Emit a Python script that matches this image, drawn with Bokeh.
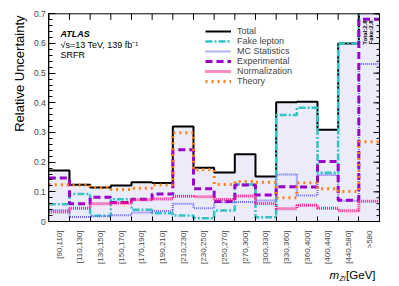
import numpy as np
from bokeh.plotting import figure
from bokeh.models import (Range1d, FixedTicker, Legend, LegendItem, Label)
from bokeh.embed import file_html
from bokeh.resources import INLINE

# ---- data ----
bin_labels = ["[90,110]", "[110,130]", "[130,150]", "[150,170]", "[170,190]", "[190,210]",
              "[210,230]", "[230,250]", "[250,270]", "[270,300]", "[300,330]", "[330,360]",
              "[360,400]", "[400,440]", "[440,580]", ">580"]
total = [0.172, 0.124, 0.115, 0.121, 0.132, 0.130, 0.320, 0.181, 0.165, 0.227, 0.152, 0.402, 0.404, 0.309, 0.600, 2.8]
fake = [0.058, 0.093, 0.019, 0.075, 0.040, 0.028, 0.020, 0.011, 0.037, 0.125, 0.014, 0.359, 0.383, 0.164, 0.600, 2.8]
mcstat = [0.038, 0.015, 0.018, 0.021, 0.030, 0.035, 0.060, 0.045, 0.065, 0.066, 0.071, 0.158, 0.088, 0.157, 0.070, 0.531]
experimental = [0.147, 0.060, 0.082, 0.064, 0.075, 0.093, 0.242, 0.110, 0.067, 0.123, 0.089, 0.117, 0.116, 0.202, 0.072, 0.682]
normalization = [0.032, 0.045, 0.060, 0.062, 0.073, 0.076, 0.085, 0.083, 0.074, 0.086, 0.061, 0.043, 0.055, 0.045, 0.036, 0.068]
theory = [0.124, 0.123, 0.115, 0.108, 0.112, 0.123, 0.299, 0.174, 0.125, 0.135, 0.132, 0.080, 0.131, 0.110, 0.101, 0.269]
y_ticks = [0, 0.1, 0.2, 0.3, 0.4, 0.5, 0.6, 0.7]
y_tick_labels = ["0", "0.1", "0.2", "0.3", "0.4", "0.5", "0.6", "0.7"]

FONT = "Liberation Sans"
n = len(bin_labels)
centers = list(range(n))
edges = [c - 0.5 for c in centers] + [n - 0.5]
X0, X1, Y0, Y1 = -0.5, n - 0.5, 0.0, 0.7

# canvas layout (pixels): the plot box inside a full-canvas frame
W, H = 399, 286
BL, BR, BT, BB = 48.3, 379.0, 13.3, 221.0
sx = (BR - BL) / (X1 - X0)          # px per x unit
sy = (BB - BT) / (Y1 - Y0)          # px per y unit
xr = Range1d(X0 - BL / sx, X1 + (W - BR) / sx)
yr = Range1d(Y0 - (H - BB) / sy, Y1 + BT / sy)

p = figure(frame_width=W, frame_height=H, output_backend="svg", toolbar_location=None,
           x_range=xr, y_range=yr,
           min_border_left=0, min_border_right=0, min_border_top=0, min_border_bottom=0)
p.grid.visible = False
p.outline_line_color = None

xt = FixedTicker(ticks=centers, minor_ticks=edges)
yminor = [round(0.02 * i, 2) for i in range(36)]
yt = FixedTicker(ticks=y_ticks, minor_ticks=yminor)

xa = p.xaxis[0]
xa.fixed_location = Y0
xa.bounds = (X0, X1)
xa.ticker = xt
xa.major_label_overrides = {c: l for c, l in zip(centers, bin_labels)}
xa.major_label_orientation = np.pi / 2
xa.major_label_text_font = FONT
xa.major_label_text_font_size = "8px"
xa.major_label_standoff = 3
xa.major_tick_line_color = None
xa.minor_tick_in = 5
xa.minor_tick_out = 0
xa.minor_tick_line_color = "black"
xa.axis_line_color = "black"

ya = p.yaxis[0]
ya.fixed_location = X0
ya.bounds = (Y0, Y1)
ya.ticker = yt
ya.major_label_overrides = {v: l for v, l in zip(y_ticks, y_tick_labels)}
ya.major_label_text_font = FONT
ya.major_label_text_font_size = "8.5px"
ya.major_label_standoff = 3
ya.major_tick_in = 7
ya.major_tick_out = 0
ya.minor_tick_in = 4
ya.minor_tick_out = 0
ya.major_tick_line_color = "black"
ya.minor_tick_line_color = "black"

# filled total (drawn up to the top of the box)
total_c = np.minimum(total, Y1)
p.quad(left=edges[:-1], right=edges[1:], bottom=Y0, top=total_c,
       fill_color="#ebebfa", line_color=None)


def steps(vals):
    """Histogram outline; bins above the box top keep their edges but no top line."""
    xs, ys = [], []
    for i, v in enumerate(vals):
        vc = min(v, Y1)
        xs.append(edges[i]); ys.append(vc)
        if v > Y1:
            xs.append(np.nan); ys.append(np.nan)
        xs.append(edges[i + 1]); ys.append(vc)
    return xs, ys


styles = [
    ("Total", total, dict(line_color="black", line_width=2)),
    ("Fake lepton", fake, dict(line_color="#33c4c4", line_width=2.5, line_dash="7 2 2 2")),
    ("MC Statistics", mcstat, dict(line_color="#6a6aff", line_width=2, line_dash="1 1")),
    ("Experimental", experimental, dict(line_color="#9900cc", line_width=3, line_dash="7 4")),
    ("Normalization", normalization, dict(line_color="#ff1a8c", line_width=3, line_dash="1 1")),
    ("Theory", theory, dict(line_color="#ff7f0e", line_width=3, line_dash="2 4")),
]
items = []
for name, vals, st in styles:
    xs, ys = steps(vals)
    r = p.line(xs, ys, **st)
    items.append(LegendItem(label=name, renderers=[r]))

# plot box and its top / right ticks
p.quad(left=X0, right=X1, bottom=Y0, top=Y1, fill_color=None, line_color="black", line_width=1)
dx = 1.0 / sx
dy = 1.0 / sy
p.segment(x0=edges, y0=[Y1] * len(edges), x1=edges, y1=[Y1 - 6 * dy] * len(edges),
          line_color="black", line_width=1)
p.segment(x0=[X1] * len(y_ticks), y0=y_ticks, x1=[X1 - 6 * dx] * len(y_ticks), y1=y_ticks,
          line_color="black", line_width=1)
p.segment(x0=[X1] * len(yminor), y0=yminor, x1=[X1 - 3 * dx] * len(yminor), y1=yminor,
          line_color="black", line_width=1)

legend = Legend(items=items, location=(205, 200), label_text_font=FONT, label_text_font_size="9px",
                glyph_width=26, glyph_height=10, label_height=10, label_standoff=6,
                spacing=0, padding=0, margin=0, background_fill_alpha=0, border_line_color=None)
p.add_layout(legend)


def dlab(x, y, text, **kw):
    d = dict(text_font=FONT, text_color="black")
    d.update(kw)
    p.add_layout(Label(x=x, y=y, text=text, **d))


def px_x(a):
    return X0 + (a - BL) / sx


def px_y(a):
    return Y1 - (a - BT) / sy


dlab(px_x(60), px_y(33), "ATLAS", text_font_size="9px", text_font_style="bold italic",
     text_baseline="alphabetic")
dlab(px_x(60), px_y(44), "\u221as=13 TeV, 139 fb\u207b\u00b9", text_font_size="9px",
     text_baseline="alphabetic")
dlab(px_x(60), px_y(54.5), "SRFR", text_font_size="9px", text_baseline="alphabetic")

dlab(px_x(19), px_y(15), "Relative Uncertainty", text_font_size="13px", angle=np.pi / 2,
     text_align="right", text_baseline="alphabetic")

dlab(px_x(329), px_y(274.5), "m", text_font_size="11.5px", text_font_style="italic",
     text_baseline="alphabetic")
dlab(px_x(339), px_y(277.5), "Zl", text_font_size="7px", text_font_style="italic",
     text_baseline="alphabetic")
dlab(px_x(375), px_y(274.5), "[GeV]", text_font_size="11.5px", text_align="right",
     text_baseline="alphabetic")

dlab(px_x(364), px_y(20), "Total:2.8", text_font_size="6px", text_font_style="bold", angle=np.pi / 2,
     text_align="right", text_baseline="middle")
dlab(px_x(370.3), px_y(20), "Fake:2.8", text_font_size="6px", text_font_style="bold", angle=np.pi / 2,
     text_align="right", text_baseline="middle")

open("out.html", "w").write(file_html(p, INLINE))
